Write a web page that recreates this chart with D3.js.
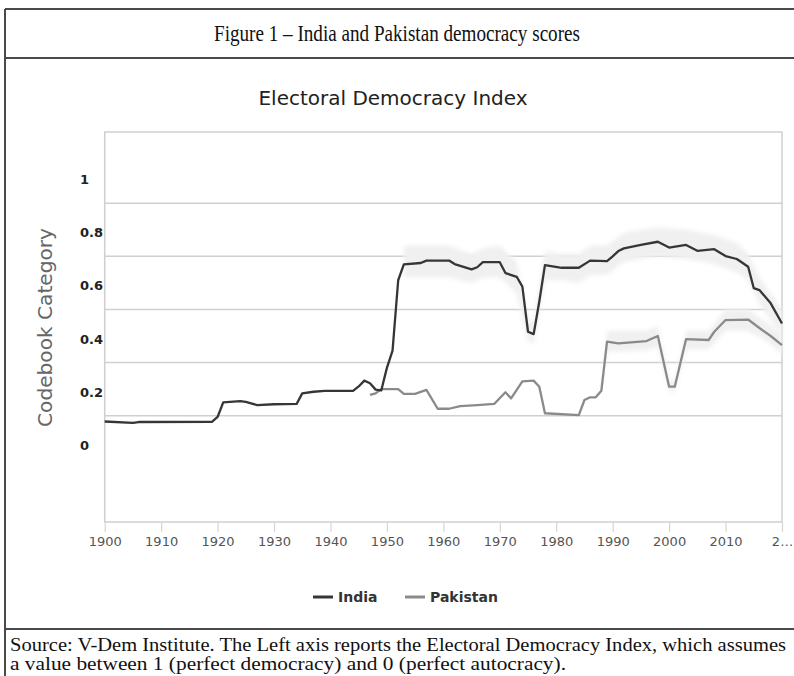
<!DOCTYPE html>
<html>
<head>
<meta charset="utf-8">
<script src="https://cdn.jsdelivr.net/npm/d3@7"></script>
<style>
  body { margin: 0; background: #fff; }
  svg { display: block; }
</style>
</head>
<body>
<div id="canvas"></div>
<script>
// series values (years where the line bends)
var indiaYears  = [1900, 1905, 1906, 1919, 1920, 1921, 1924, 1925, 1927, 1930, 1934, 1935, 1937, 1939, 1944, 1945, 1946, 1947, 1948, 1949, 1950, 1951, 1952, 1953, 1956, 1957, 1961, 1962, 1965, 1966, 1967, 1970, 1971, 1973, 1974, 1975, 1976, 1977, 1978, 1981, 1984, 1986, 1989, 1990, 1991, 1992, 1995, 1998, 2000, 2003, 2005, 2008, 2010, 2012, 2014, 2015, 2016, 2018, 2020];
var indiaScores = [0.078, 0.073, 0.076, 0.077, 0.095, 0.150, 0.155, 0.152, 0.140, 0.143, 0.144, 0.184, 0.190, 0.193, 0.193, 0.210, 0.232, 0.222, 0.198, 0.195, 0.280, 0.345, 0.610, 0.670, 0.675, 0.684, 0.684, 0.671, 0.651, 0.659, 0.678, 0.678, 0.637, 0.623, 0.586, 0.416, 0.407, 0.530, 0.667, 0.657, 0.657, 0.684, 0.682, 0.700, 0.720, 0.730, 0.743, 0.755, 0.733, 0.743, 0.721, 0.727, 0.701, 0.690, 0.661, 0.580, 0.573, 0.523, 0.447];

var pakistanYears  = [1947, 1948, 1949, 1952, 1953, 1955, 1957, 1959, 1961, 1963, 1966, 1969, 1971, 1972, 1974, 1976, 1977, 1978, 1984, 1985, 1986, 1987, 1988, 1989, 1991, 1996, 1998, 2000, 2001, 2003, 2007, 2008, 2010, 2014, 2016, 2018, 2020];
var pakistanScores = [0.178, 0.184, 0.200, 0.200, 0.182, 0.182, 0.197, 0.126, 0.126, 0.136, 0.140, 0.144, 0.188, 0.165, 0.229, 0.232, 0.209, 0.109, 0.102, 0.159, 0.169, 0.169, 0.194, 0.379, 0.372, 0.381, 0.400, 0.209, 0.209, 0.388, 0.385, 0.416, 0.460, 0.462, 0.430, 0.400, 0.366];

// confidence bands: [year, low, high]
var indiaBand = [[1953, 0.62, 0.74], [1957, 0.62, 0.74], [1961, 0.62, 0.74], [1965, 0.60, 0.71], [1967, 0.62, 0.73], [1970, 0.62, 0.74], [1973, 0.56, 0.68], [1975, 0.38, 0.46], [1976, 0.37, 0.45], [1978, 0.61, 0.72], [1981, 0.61, 0.71], [1984, 0.60, 0.71], [1986, 0.63, 0.74], [1989, 0.63, 0.74], [1992, 0.68, 0.79], [1998, 0.70, 0.81], [2003, 0.69, 0.80], [2008, 0.67, 0.78], [2012, 0.64, 0.75], [2014, 0.61, 0.71], [2016, 0.52, 0.62], [2020, 0.40, 0.50]];
var pakistanBand = [[1988, 0.18, 0.21], [1989, 0.34, 0.42], [1996, 0.345, 0.42], [1998, 0.36, 0.44], [2000, 0.19, 0.23], [2001, 0.19, 0.23], [2003, 0.35, 0.42], [2007, 0.35, 0.42], [2010, 0.42, 0.50], [2014, 0.42, 0.50], [2018, 0.37, 0.44], [2020, 0.33, 0.40]];

var xTicks = [1900, 1910, 1920, 1930, 1940, 1950, 1960, 1970, 1980, 1990, 2000, 2010, 2020];
var yLabels = [0, 0.2, 0.4, 0.6, 0.8, 1];
var yGrid = [0.1, 0.3, 0.5, 0.7, 0.9];

var W = 794, H = 676;
var plot = {left: 104.7, right: 782, top: 132, bottom: 522};

var svg = d3.select("#canvas").append("svg")
  .attr("width", W)
  .attr("height", H);

var defs = svg.append("defs");
defs.append("filter").attr("id", "soft")
  .attr("x", "-5%").attr("y", "-20%").attr("width", "110%").attr("height", "140%")
  .append("feGaussianBlur").attr("stdDeviation", 2);

var x = d3.scaleLinear().domain([1900, 2020]).range([plot.left, plot.right]);
var y = d3.scaleLinear().domain([0, 1]).range([442.2, 176.7]);

// figure frame
var frame = "#4a4a4a";
svg.append("line").attr("x1", 5).attr("x2", W).attr("y1", 9).attr("y2", 9)
  .attr("stroke", frame).attr("stroke-width", 2);
svg.append("line").attr("x1", 5).attr("x2", 5).attr("y1", 9).attr("y2", H)
  .attr("stroke", frame).attr("stroke-width", 2);
svg.append("line").attr("x1", 5).attr("x2", W).attr("y1", 58).attr("y2", 58)
  .attr("stroke", frame).attr("stroke-width", 2);
svg.append("line").attr("x1", 5).attr("x2", W).attr("y1", 629).attr("y2", 629)
  .attr("stroke", frame).attr("stroke-width", 2);

var serif = "'Liberation Serif', 'DejaVu Serif', serif";

svg.append("text")
  .attr("x", 214).attr("y", 41)
  .attr("textLength", 366)
  .attr("lengthAdjust", "spacingAndGlyphs")
  .style("font-family", serif)
  .style("font-size", "23px")
  .style("fill", "#111")
  .text("Figure 1 \u2013 India and Pakistan democracy scores");

// footer note
svg.append("text")
  .attr("x", 10).attr("y", 651)
  .attr("textLength", 776)
  .attr("lengthAdjust", "spacingAndGlyphs")
  .style("font-family", serif)
  .style("font-size", "19px")
  .style("fill", "#111")
  .text("Source: V-Dem Institute. The Left axis reports the Electoral Democracy Index, which assumes");
svg.append("text")
  .attr("x", 10).attr("y", 670)
  .attr("textLength", 556)
  .attr("lengthAdjust", "spacingAndGlyphs")
  .style("font-family", serif)
  .style("font-size", "19px")
  .style("fill", "#111")
  .text("a value between 1 (perfect democracy) and 0 (perfect autocracy).");

// chart title
svg.append("text")
  .attr("x", 393).attr("y", 105)
  .attr("text-anchor", "middle")
  .style("font-family", "'DejaVu Sans', sans-serif")
  .style("font-size", "20px")
  .style("fill", "#222")
  .text("Electoral Democracy Index");

// y axis title
svg.append("text")
  .attr("transform", "translate(52," + 327.5 + ") rotate(-90)")
  .attr("text-anchor", "middle")
  .attr("textLength", 199)
  .attr("lengthAdjust", "spacingAndGlyphs")
  .style("font-family", "'DejaVu Sans', sans-serif")
  .style("font-size", "20px")
  .style("fill", "#666")
  .text("Codebook Category");

// gridlines
svg.selectAll(".grid")
  .data(yGrid)
  .enter().append("line")
    .attr("class", "grid")
    .attr("x1", plot.left).attr("x2", plot.right)
    .attr("y1", function(d) { return y(d); })
    .attr("y2", function(d) { return y(d); })
    .attr("stroke", "#d0d0d0")
    .attr("stroke-width", 1.5);

// plot border
svg.append("rect")
  .attr("x", plot.left).attr("y", plot.top)
  .attr("width", plot.right - plot.left)
  .attr("height", plot.bottom - plot.top)
  .attr("fill", "none")
  .attr("stroke", "#cfcfcf")
  .attr("stroke-width", 1.5);

// y labels (left aligned)
svg.selectAll(".ylab")
  .data(yLabels)
  .enter().append("text")
    .attr("class", "ylab")
    .attr("x", 80)
    .attr("y", function(d) { return y(d) + 3; })
    .attr("dy", "0.35em")
    .style("font-family", "'DejaVu Sans', sans-serif")
    .style("font-size", "13px")
    .style("font-weight", "bold")
    .style("fill", "#222")
    .text(function(d) { return d3.format("~g")(d); });

// x axis
var xAxis = d3.axisBottom(x)
  .tickValues(xTicks)
  .tickSize(10)
  .tickPadding(5)
  .tickFormat(function(d) { return d === 2020 ? "2\u2026" : d; });

var gx = svg.append("g")
  .attr("transform", "translate(0," + plot.bottom + ")")
  .call(xAxis);
gx.select(".domain").remove();
gx.selectAll(".tick line").attr("stroke", "#d6d6d6").attr("stroke-width", 1.2);
gx.selectAll(".tick text")
  .style("font-family", "'DejaVu Sans', sans-serif")
  .style("font-size", "13px")
  .style("fill", "#555");

// bands
var band = d3.area()
  .x(function(d) { return x(d[0]); })
  .y0(function(d) { return y(d[1]); })
  .y1(function(d) { return y(d[2]); });

var bands = svg.append("g").attr("filter", "url(#soft)");
bands.append("path").datum(indiaBand)
  .attr("d", band).attr("fill", "#f0f0f0");
bands.append("path").datum(pakistanBand)
  .attr("d", band).attr("fill", "#f0f0f0");

// lines
var line = d3.line()
  .x(function(d) { return x(d[0]); })
  .y(function(d) { return y(d[1]); });

var pakistan = d3.zip(pakistanYears, pakistanScores);
var india = d3.zip(indiaYears, indiaScores);

svg.append("path").datum(pakistan)
  .attr("d", line)
  .attr("fill", "none")
  .attr("stroke", "#8a8a8a")
  .attr("stroke-width", 2.3)
  .attr("stroke-linejoin", "round");

svg.append("path").datum(india)
  .attr("d", line)
  .attr("fill", "none")
  .attr("stroke", "#363636")
  .attr("stroke-width", 2.3)
  .attr("stroke-linejoin", "round");

// legend
var legend = [{name: "India", color: "#363636", x: 313}, {name: "Pakistan", color: "#8a8a8a", x: 405}];
var lg = svg.selectAll(".legend")
  .data(legend)
  .enter().append("g")
    .attr("class", "legend")
    .attr("transform", function(d) { return "translate(" + d.x + ",597)"; });
lg.append("line")
  .attr("x1", 0).attr("x2", 20)
  .attr("stroke", function(d) { return d.color; })
  .attr("stroke-width", 3);
lg.append("text")
  .attr("x", 25)
  .attr("dy", "0.35em")
  .style("font-family", "'DejaVu Sans', sans-serif")
  .style("font-size", "14px")
  .style("font-weight", "bold")
  .style("fill", "#333")
  .text(function(d) { return d.name; });
</script>
</body>
</html>
